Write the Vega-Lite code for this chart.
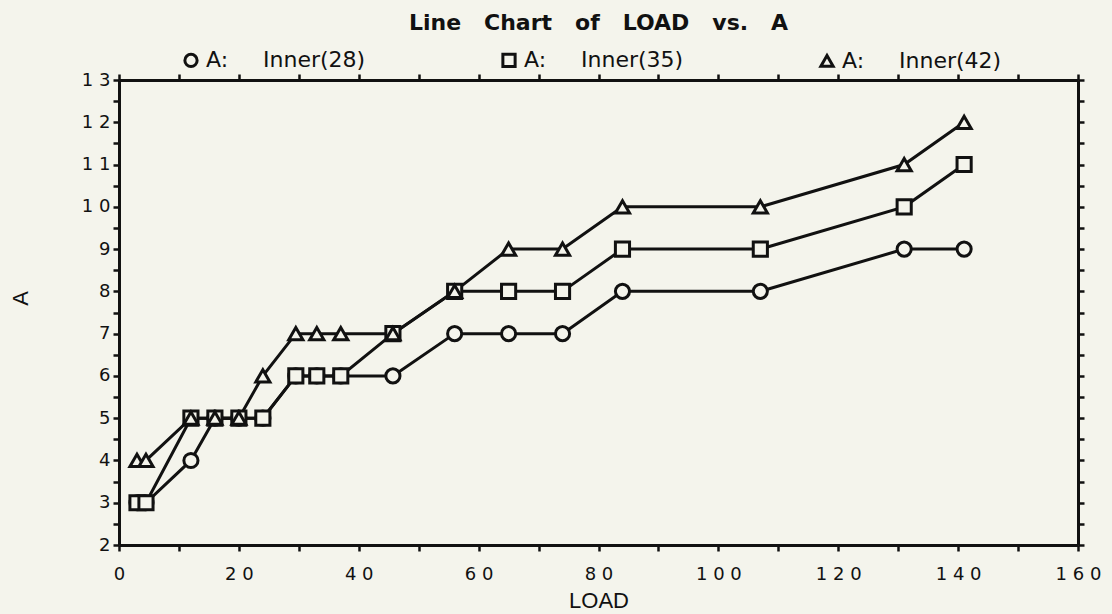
{
  "$schema": "https://vega.github.io/schema/vega-lite/v6.json",
  "width": 959,
  "height": 465,
  "autosize": {"type": "none"},
  "padding": {"left": 119, "top": 80, "right": 34, "bottom": 69},
  "background": "#f4f4ec",
  "config": {"view": {"stroke": null}, "font": "DejaVu Sans"},
  "title": {
    "text": "Line\u00a0\u00a0\u00a0Chart\u00a0\u00a0\u00a0of\u00a0\u00a0\u00a0LOAD\u00a0\u00a0\u00a0vs.\u00a0\u00a0\u00a0A",
    "font": "DejaVu Sans",
    "fontSize": 22,
    "fontWeight": "bold",
    "color": "#111111",
    "anchor": "middle",
    "frame": "group",
    "offset": 14
  },
  "data": {
    "values": [
      {"LOAD": 3, "A": 3, "series": "A: Inner(28)"},
      {"LOAD": 4.5, "A": 3, "series": "A: Inner(28)"},
      {"LOAD": 12, "A": 4, "series": "A: Inner(28)"},
      {"LOAD": 16, "A": 5, "series": "A: Inner(28)"},
      {"LOAD": 20, "A": 5, "series": "A: Inner(28)"},
      {"LOAD": 24, "A": 5, "series": "A: Inner(28)"},
      {"LOAD": 29.5, "A": 6, "series": "A: Inner(28)"},
      {"LOAD": 33, "A": 6, "series": "A: Inner(28)"},
      {"LOAD": 37, "A": 6, "series": "A: Inner(28)"},
      {"LOAD": 45.7, "A": 6, "series": "A: Inner(28)"},
      {"LOAD": 56, "A": 7, "series": "A: Inner(28)"},
      {"LOAD": 65, "A": 7, "series": "A: Inner(28)"},
      {"LOAD": 74, "A": 7, "series": "A: Inner(28)"},
      {"LOAD": 84, "A": 8, "series": "A: Inner(28)"},
      {"LOAD": 107, "A": 8, "series": "A: Inner(28)"},
      {"LOAD": 131, "A": 9, "series": "A: Inner(28)"},
      {"LOAD": 141, "A": 9, "series": "A: Inner(28)"},
      {"LOAD": 3, "A": 3, "series": "A: Inner(35)"},
      {"LOAD": 4.5, "A": 3, "series": "A: Inner(35)"},
      {"LOAD": 12, "A": 5, "series": "A: Inner(35)"},
      {"LOAD": 16, "A": 5, "series": "A: Inner(35)"},
      {"LOAD": 20, "A": 5, "series": "A: Inner(35)"},
      {"LOAD": 24, "A": 5, "series": "A: Inner(35)"},
      {"LOAD": 29.5, "A": 6, "series": "A: Inner(35)"},
      {"LOAD": 33, "A": 6, "series": "A: Inner(35)"},
      {"LOAD": 37, "A": 6, "series": "A: Inner(35)"},
      {"LOAD": 45.7, "A": 7, "series": "A: Inner(35)"},
      {"LOAD": 56, "A": 8, "series": "A: Inner(35)"},
      {"LOAD": 65, "A": 8, "series": "A: Inner(35)"},
      {"LOAD": 74, "A": 8, "series": "A: Inner(35)"},
      {"LOAD": 84, "A": 9, "series": "A: Inner(35)"},
      {"LOAD": 107, "A": 9, "series": "A: Inner(35)"},
      {"LOAD": 131, "A": 10, "series": "A: Inner(35)"},
      {"LOAD": 141, "A": 11, "series": "A: Inner(35)"},
      {"LOAD": 3, "A": 4, "series": "A: Inner(42)"},
      {"LOAD": 4.5, "A": 4, "series": "A: Inner(42)"},
      {"LOAD": 12, "A": 5, "series": "A: Inner(42)"},
      {"LOAD": 16, "A": 5, "series": "A: Inner(42)"},
      {"LOAD": 20, "A": 5, "series": "A: Inner(42)"},
      {"LOAD": 24, "A": 6, "series": "A: Inner(42)"},
      {"LOAD": 29.5, "A": 7, "series": "A: Inner(42)"},
      {"LOAD": 33, "A": 7, "series": "A: Inner(42)"},
      {"LOAD": 37, "A": 7, "series": "A: Inner(42)"},
      {"LOAD": 45.7, "A": 7, "series": "A: Inner(42)"},
      {"LOAD": 56, "A": 8, "series": "A: Inner(42)"},
      {"LOAD": 65, "A": 9, "series": "A: Inner(42)"},
      {"LOAD": 74, "A": 9, "series": "A: Inner(42)"},
      {"LOAD": 84, "A": 10, "series": "A: Inner(42)"},
      {"LOAD": 107, "A": 10, "series": "A: Inner(42)"},
      {"LOAD": 131, "A": 11, "series": "A: Inner(42)"},
      {"LOAD": 141, "A": 12, "series": "A: Inner(42)"}
    ]
  },
  "layer": [
    {
      "mark": {"type": "line", "color": "#111111", "strokeWidth": 3},
      "encoding": {
        "x": {
          "field": "LOAD", "type": "quantitative",
          "scale": {"domain": [0, 160], "nice": false, "zero": false},
          "axis": {
            "orient": "bottom",
            "values": [0, 10, 20, 30, 40, 50, 60, 70, 80, 90, 100, 110, 120, 130, 140, 150, 160],
            "labelExpr": "datum.value % 20 === 0 ? join(split(toString(datum.value), ''), ' ') : ''",
            "labelFont": "DejaVu Sans", "labelFontSize": 18, "labelColor": "#111111",
            "labelPadding": 14, "labelFlush": false, "labelOverlap": false,
            "tickSize": 6, "tickWidth": 2.5, "tickColor": "#111111",
            "domainColor": "#111111", "domainWidth": 3, "grid": false,
            "title": "LOAD", "titleFont": "Liberation Sans", "titleFontSize": 22,
            "titleFontWeight": "normal", "titleColor": "#111111",
            "titleY": 55, "titleBaseline": "middle"
          }
        },
        "y": {
          "field": "A", "type": "quantitative",
          "scale": {"domain": [2, 13], "nice": false, "zero": false},
          "axis": {
            "orient": "left",
            "values": [2, 2.5, 3, 3.5, 4, 4.5, 5, 5.5, 6, 6.5, 7, 7.5, 8, 8.5, 9, 9.5, 10, 10.5, 11, 11.5, 12, 12.5, 13],
            "labelExpr": "datum.value % 1 === 0 ? join(split(toString(datum.value), ''), ' ') : ''",
            "labelFont": "DejaVu Sans", "labelFontSize": 18, "labelColor": "#111111",
            "labelPadding": 3, "labelFlush": false, "labelOverlap": false,
            "tickSize": 6, "tickWidth": 2.5, "tickColor": "#111111",
            "domainColor": "#111111", "domainWidth": 3, "grid": false,
            "title": "A", "titleFont": "Liberation Sans", "titleFontSize": 22,
            "titleFontWeight": "normal", "titleColor": "#111111",
            "titleX": -99, "titleY": 218, "titleBaseline": "middle", "titleAlign": "center"
          }
        },
        "detail": {"field": "series"}
      }
    },
    {
      "mark": {"type": "point", "filled": true, "fill": "#f4f4ec", "stroke": "#111111", "strokeWidth": 3, "size": 200, "opacity": 1},
      "encoding": {
        "x": {
          "field": "LOAD", "type": "quantitative",
          "scale": {"domain": [0, 160], "nice": false, "zero": false},
          "axis": {
            "orient": "top",
            "values": [0, 10, 20, 30, 40, 50, 60, 70, 80, 90, 100, 110, 120, 130, 140, 150, 160],
            "labels": false, "tickSize": 6, "tickWidth": 2.5, "tickColor": "#111111",
            "domainColor": "#111111", "domainWidth": 3, "grid": false, "title": null
          }
        },
        "y": {
          "field": "A", "type": "quantitative",
          "scale": {"domain": [2, 13], "nice": false, "zero": false},
          "axis": {
            "orient": "right",
            "values": [2, 2.5, 3, 3.5, 4, 4.5, 5, 5.5, 6, 6.5, 7, 7.5, 8, 8.5, 9, 9.5, 10, 10.5, 11, 11.5, 12, 12.5, 13],
            "labels": false, "tickSize": 6, "tickWidth": 2.5, "tickColor": "#111111",
            "domainColor": "#111111", "domainWidth": 3, "grid": false, "title": null
          }
        },
        "shape": {
          "field": "series", "type": "nominal",
          "scale": {"domain": ["A: Inner(28)", "A: Inner(35)", "A: Inner(42)"], "range": ["circle", "square", "triangle-up"]},
          "legend": {
            "orient": "none", "legendX": 61, "legendY": -31, "columns": 3,
            "title": null,
            "labelExpr": "replace(datum.label, ' ', '\u00a0\u00a0\u00a0\u00a0\u00a0')",
            "labelFont": "DejaVu Sans", "labelFontSize": 22, "labelColor": "#111111",
            "labelLimit": 400, "columnPadding": 130,
            "symbolSize": 150, "symbolStrokeWidth": 3
          }
        }
      }
    }
  ],
  "resolve": {"axis": {"x": "independent", "y": "independent"}}
}
